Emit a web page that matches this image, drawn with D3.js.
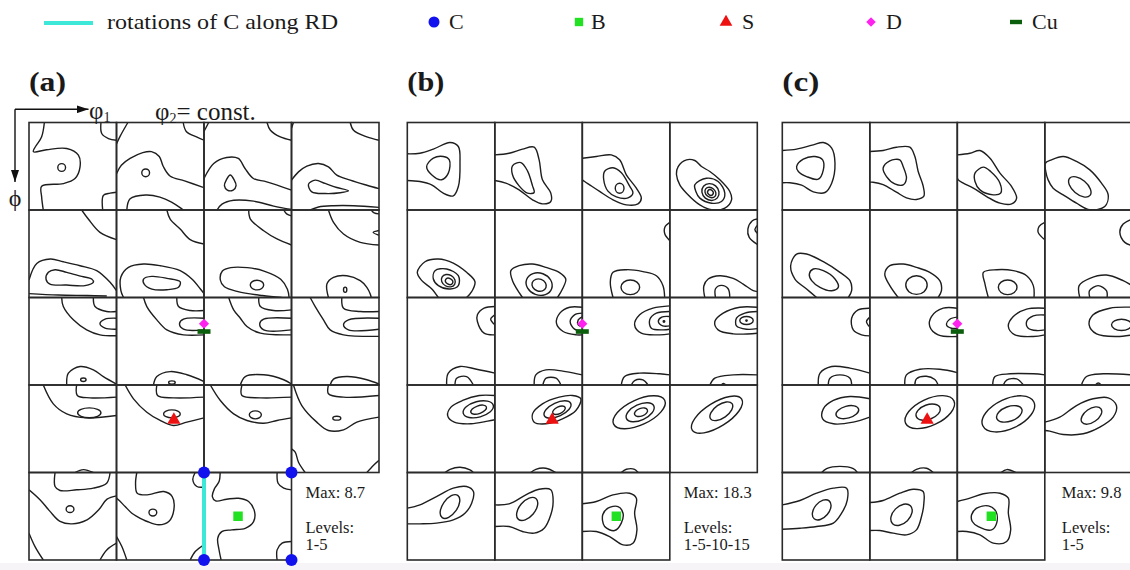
<!DOCTYPE html>
<html><head><meta charset="utf-8">
<script src="https://cdn.jsdelivr.net/npm/d3@7"></script>
<style>
body{margin:0;background:#fff}
svg{display:block}
text{font-family:"Liberation Serif","Times New Roman",serif;fill:#1a1a1a}
</style>
</head><body>
<svg id="chart" width="1130" height="570" font-family="Liberation Serif, serif"></svg>
<script>
// ---------------- DATA ----------------
const phi2Sections = [0,5,10,15,20,25,30,35,40,45,50,55,60,65,70,75,80,85,90];
const panelLabels = ["(a)","(b)","(c)"];
const maxValues = ["8.7","18.3","9.8"];
const levelLabels = ["1-5","1-5-10-15","1-5"];
const legendLabels = ["rotations of C along RD","C","B","S","D","Cu"];

// texture components as Euler angles [phi1, Phi, phi2]
const compC  = [[0,0,90],[90,0,90],[0,90,90],[90,90,90]];
const compB  = [[35,45,90]];
const compS  = [[59,37,63]];
const compD  = [[90,27,45]];
const compCu = [[90,35,45]];
const rdRotation = [[0,0,90],[0,90,90]];

// contours per phi2 section, in degrees (phi1, Phi)
// "o": open line, "c": closed line, "e": [cx, cy, rx, ry, tilt]
const contoursA = [
 [["o",15.8,0,13,14.7,4.5,30,18,28,38.8,26.8,50.8,33.6,52.5,45.6,47.3,57.6,35.3,62.8,13,65.5,13,76.5,14.7,90],
  ["e",33.6,46.3,4,4,0],["o",74,0,74.8,11.3,81.7,16.5,90,18.2],["o",75.8,90,76.5,75,83.4,72.7,90,71.7]],
 [["o",11.7,0,3.8,14,0,22],
  ["o",0,52.8,5,44,14,37,27,31,36,30,44,35,48,45,55,55,70,60,90,67],
  ["e",30,51.8,4,4,0],["o",10.6,90,14,78.5,30,74.6,44.6,76.7,56.6,81.8,66.9,88.6,68.6,90],
  ["o",68.6,0,72,9.6,82.3,14.8,90,18.2]],
 [["o",4.8,0,0,9.3],["o",0,57.6,10,42.2,23.3,36,35.3,37,42.2,47.3,50.8,57.6,64.5,61,90,69.6],
  ["c",27,54,31,59,33,65,30,69.5,24,69.5,21,65,23,59],
  ["o",13.4,90,18.5,84,30.5,80,51,80.9,71.7,86,90,89.5],["o",64.8,0,68.3,7.9,78.5,14.8,90,18.2]],
 [["o",2,0,0,6],["o",0,59.3,7.2,50.8,15.8,44.9,27.8,42.2,38,45.6,46.6,54.2,60.4,59.3,77.5,64.5,90,68],
  ["c",17.5,63.4,24.4,59.3,34.6,62.7,46.6,66.9,58.6,70.3,50.1,72.3,34.6,73.1,20.9,71.4],
  ["o",19.2,90,27.8,86.9,43.2,85.6,63.8,85.6,90,87.3],["o",60.4,0,63.8,7.9,77.5,14.8,90,18.2]],
 [["o",54.2,0,61,9.3,73,23,90,30.5],
  ["o",0,72,8,55,22,50.4,35.3,53.2,52.5,57.3,69.6,62.4,83.4,74.4,90,83],
  ["o",0,86,30,87.5,60,88,80,88.5],
  ["c",19.9,64.1,26.8,61.4,38.8,64.1,54.2,68.3,64.5,71,66.2,74.4,57.6,77.8,38.8,77.2,21.6,76.2,17.5,71]],
 [["o",51.8,0,55.2,9.3,65.5,19.6,75.8,30.5,90,35],
  ["o",7.2,90,4.5,83,4.5,69,12.3,59,27.8,55.6,44.9,57.3,65.5,62.4,77.5,71,86.1,81,90,86],
  ["c",27.8,71,36.4,68.3,51.8,70.3,65.5,73.8,63.8,79.5,51.8,82,36.4,81.3,28.5,76.2]],
 [["o",46,0,47.7,9.3,61.4,21.3,75.1,29.8,90,36],["o",82,0,85,4,90,6],
  ["o",87.5,90,85.8,81.6,78.9,71.3,61.7,62.8,44.6,59.3,27.5,59.3,18.9,62.8,16.8,72,21,79,35,84,60,88,80,90],
  ["e",54.5,77.2,6.9,5,0]],
 [["o",38,0,43.2,12.7,53.5,24.7,70.7,33.3,90,36],["o",82,0,85,3,90,4],["o",90,21,84,23,90,26],
  ["o",38,90,36.4,76.2,43.2,69.3,57,67.6,70.7,72.7,77.5,79.5,81,86.4,82,90],
  ["e",55.2,82,1.7,2.7,0]],
 [["o",33.6,0,35.3,9.3,45.6,23,59.3,33.3,73,38.4,90,39.4],["o",66.2,0,67.9,9.3,79.9,14.4,90,14.4],
  ["o",90,21.3,78.2,22.3,73,27,78.2,31.5,90,32.6],["o",38.8,90,40.5,77.8,52.5,71,66.2,74.4,76.5,81.3,90,89],
  ["e",55.9,84.6,2.8,1.8,0]],
 [["o",27.8,0,31.2,9.3,41.5,23,51.8,33.3,68.9,38.4,90,38.4],["o",62,0,63.8,9.3,75.8,13.4,90,13.4],
  ["o",90,21.3,68.9,22.3,64.8,27,68.9,32.6,90,33.3],["o",38,90,41.5,81.3,55.2,76.2,72.4,79.5,90,86.4],
  ["e",57,87.5,3.4,1.7,0]],
 [["o",25.4,0,30.5,12.7,37.4,21.3,44.2,29.8,58,36.7,90,38.4],["o",56.3,0,58,9.3,71.7,13.4,90,12.7],
  ["o",90,21.3,61.4,22.3,57.3,27,61.4,33.3,90,33.3],["o",37.4,90,42.5,81.3,61.4,79.5,82,84.6,90,89]],
 [["o",19.2,0,24.4,9.3,32.9,23,39.8,33.3,53.5,38.4,90,40],["o",51.8,0,53.5,11,70.7,14.4,90,14.4],
  ["o",90,21.3,58.6,23,53.5,28.1,58.6,33.3,90,32.6],["o",39.8,90,43.2,84,57,81.3,77.5,84.6,90,89]],
 [["o",14.7,0,25,19.4,38.8,29.7,59.3,33.8,90,31.4],["o",49,0,49.7,10.8,62.7,13.2,90,12.5],
  ["e",62,28.6,12,5.1,0],["o",47.3,90,56,87,66,90]],
 [["o",8.9,0,17.5,14.2,31.2,28,44.9,36.5,58.6,41.7,72.4,38.2,90,33.8],["o",41.5,0,42.2,10.8,58.6,13.2,90,12.5],
  ["e",57,29.7,8.6,4.1,0]],
 [["o",6.5,0,16.8,16,30.5,29.7,44.2,36.5,61.4,39.3,75.1,36.5,90,33.8],["o",39,0,39,10.8,58,13.2,90,12.5],
  ["e",52.8,30.7,6.2,4.1,0]],
 [["o",2,0,10.6,21.1,26,38.2,38,46.8,53.5,46.1,67.2,38.2,90,33],["o",38,0,38,9,53.5,12.5,90,10.8],
  ["e",46.6,34.1,4.1,2,0],["o",0,65.7,3.8,69,7.2,79.5,14,90],["o",77.5,90,84.4,82.5,90,77.4]],
 [["o",26.8,0,26.8,14.4,31.9,18.5,49,17.8,66.2,16.1,79.9,11,83.4,0],
  ["o",0,17.8,11.3,28,21.6,40,31.9,50.3,44.2,52.8,59.7,48.7,71.7,38.4,80.3,27.4,90,24],
  ["e",42.2,37.7,4,3.5,0],["o",0,62.4,6.2,76.2,14.7,90],["o",73,90,80,79.6,90,72.7]],
 [["o",20.9,0,19.6,11,21.3,21.3,31.6,23,48.7,19.6,57.3,24.7,59,38.4,53.8,50.4,43.5,53.8,31.6,50.4,21.3,45.3,15.8,41.9,8.9,35,2,28.1,0,26.4],
  ["e",37.4,41.2,4,3.5,0],["o",80.9,0,78.5,7.5,82.7,14.4,90,15],["o",0,65.9,5.5,76.2,10.6,90],
  ["o",75.8,90,81,81.3,90,74.4]],
 [["o",16.6,0,15.5,9.3,10.7,16.8,8.6,24.7,12,29.2,23.4,27.5,35.5,26.5,45.9,29.9,52,40.2,51,50.5,42.4,57.4,28.6,59,18.3,60.8,14.1,67.7,15.5,79.7,17.6,90],
  ["o",75.2,0,76.2,11,82,16.1,90,17.9],["o",90,71,80.3,72.7,75.2,79.6,75.2,90]]
];

const contoursB = [
 [["o",0,32.2,13,31.6,26.8,27.4,43.9,20.6,52.5,24.7,54.2,41.9,52.5,65.9,47.3,75.5,37,72.7,25,64.1,13,60.7,0,59.7],
  ["c",19.9,45.3,26.8,36.7,37,35,43.2,38.4,42.2,52.1,35.3,58.9,25,53.8]],
 [["o",0,33.3,14.7,31.6,28.5,27.4,40.5,25.4,45.6,38.4,49,59,57.6,72.7,57.6,81.3,49,83.7,38.8,79.5,25,69.3,11.3,62.4,0,59.7],
  ["c",18.2,44.6,26.8,41.2,33.6,49.7,38.8,65.2,40.5,72,33.6,72.7,25,65.2,18.2,53.8]],
 [["o",0,36.7,14.4,35,29.8,33.3,38.4,38.4,45.3,53.8,55.6,67.6,60.7,77.8,57.3,83.7,45.3,84.7,31.6,79.5,17.8,70.9,7.5,64.1,2.4,60.7,0,59],
  ["c",23,50.1,31.6,46.6,40.2,51.8,48.7,65.5,52.1,72.4,47,77.5,35,76.5,26.4,70.6,22,58.6],
  ["e",38.4,67.6,4.5,5.1,0]],
 [["c",8.6,45.3,17.2,38.4,25.7,39.1,32.6,45.3,41.2,50.4,51.5,59,61.7,71,63.5,79.5,56.6,88.1,42.9,89.8,30.9,84.7,17.2,72.7,10.3,64.1,6.9,53.8],
  ["c",25.7,64.1,37.7,57.3,49.7,60.7,56.6,72.7,53.2,81.3,42.9,83,30.9,77.8,26.8,70.9],
  ["e",41.8,71.5,9.3,8.2,40],["e",41.8,72,6.2,4.8,40],["e",41.8,72,3.1,2.6,40]],
 [["o",31.9,90,25,80.9,14.7,72.4,10.3,64.1,18.2,53.2,31.9,50.4,47.3,54.6,61,64.1,69.6,73.8,66.2,84,61,90],
  ["c",28.5,62.4,40.5,60.7,52.5,67.6,52.5,77.8,44,81.3,32,77.8,26.8,71],
  ["e",42.2,72.7,7.5,6,30],["e",43,73.4,4,3,30]],
 [["o",28.5,90,18.2,72.7,16.5,62.4,25,57.3,38.8,55.6,52.5,59,66.2,64.1,73,71,69.6,81.3,64.5,90],
  ["e",45.6,76.2,13.7,11.3,20],["e",45.6,77.2,7.5,6.2,20]],
 [["o",90,12.7,84.9,17.8,84.9,24.7,90,31.6],
  ["o",31.6,90,28.8,74.4,31.6,64.1,45.3,61.4,62.4,63.4,76.2,67.6,83,77.8,84.7,90],
  ["e",49.4,79.5,9.6,7.5,0]],
 [["o",90,9.3,84.9,11,80.3,19.6,81.7,28.1,90,35.3],["o",90,16,87.5,20,90,24],
  ["o",36,90,35,78.2,39.5,71,51.5,67.6,65.2,70.3,75.5,76.2,85.8,83,90,84],
  ["o",47,90,47,81,53,77.5,60,81,61.7,90]],
 [["o",90,9.3,79,11,72.1,17.8,72.1,24.7,79,36.7,90,38.4],["o",90,17.8,85.8,22.3,90,28.1],
  ["o",40.5,90,42.2,77.8,54.2,71,71.3,73.8,90,77.8],["o",49,90,50.8,83,61,81.3,68,90]],
 [["o",90,10,77,10,66.9,16.1,63.4,26.4,70.3,35,84,38.4,90,38.4],["o",90,16.1,82,17.8,77.5,24.7,82,32.6,90,34],
  ["o",90,19.6,85.8,23,85.8,28.1,90,29.8],["o",40.5,90,42.2,79.6,52.5,74.4,73,76.2,90,79.6],
  ["o",49.4,90,52.8,83,63,83,68,90]],
 [["o",90,8.6,72.7,11,59,17.8,53.8,28.1,60.7,36.7,79.6,38.4,90,37.4],
  ["o",90,14.4,76.2,16.1,69.3,23,71,31.6,83,33.3,90,32.6],["o",90,19.6,81.7,20.2,78.2,24.7,82.7,29.2,90,29.2],
  ["e",84,24.7,0.8,0.8,0],["o",40.1,90,43.5,81.3,59,77.8,79.6,78.5,90,79.6],["o",50.4,90,53.8,85.4,62.4,84.7,67.6,90]],
 [["o",90,10,72,10,54.9,16.1,46.3,24.7,49.7,33.3,65.2,37.4,90,36.7],
  ["o",90,14.4,77.2,16.1,68.6,21.3,68.6,29.2,78.9,32.6,90,32],["e",78.9,23.7,6.9,4.1,0],["e",78.9,23.7,0.7,0.7,0],
  ["o",41.2,90,46.3,83,65.2,79.6,90,79.6],["o",53,90,55,88.5,58,90]],
 [["o",90,10.8,74,10.8,56.9,15.9,44.9,22.8,41.5,31.4,48.3,38.2,65.5,39.9,82.7,37.2,90,35.8],
  ["e",73,25,16,8,-15],["e",73.4,25.4,8.5,4,-20],["o",38.8,90,44,86.7,54.2,84.6,64.5,87.3,67.9,90]],
 [["c",88.5,14.2,79.9,10.8,66.2,12.5,49,19.4,38.8,29.7,40.5,38.2,52.5,39.9,69.6,34.8,83.4,26.2],
  ["e",64.5,25.2,15,7,-25],["e",66,26,7,3.5,-25],["o",37,90,42.2,86.7,52.5,85.6,62.7,90]],
 [["e",58.5,28,29,13,-25],["e",59.5,28,15.5,8,-25],["e",60.4,28,7,4,-20],["o",40.1,90,45.3,86.7,53.8,86.7,57.3,90]],
 [["e",48.5,30.5,30,12.5,-32],["e",53,27,13.5,7,-35]],
 [["o",0,36.7,13,33.3,30,24.7,47.3,16.1,61,14.4,68,19.6,66.2,31.6,59.3,41.9,47.3,48.7,30,52.1,13,52.8,0,52.8],
  ["e",43.9,35,14,7.5,-55]],
 [["o",0,33.3,14.7,32.2,31.9,23,45.6,17.2,57.6,17.8,60,29.8,57.6,43.5,50.8,57.3,40.5,62.4,28.5,60.7,14.7,55.6,0,55.6],
  ["e",33.3,37.5,14,8,-50]],
 [["o",0,32.2,14.4,29.8,31.6,23,48.7,21.3,55.6,26.4,53.8,41.9,56.2,59,52.1,72.7,41.9,74.4,28.1,65.9,14.4,60.7,0,60.7],
  ["c",21,43.5,26.4,36.7,36.7,35,41.9,41.9,40.1,52.1,33.3,59.7,23,55.6]]
];

const contoursC = [
 [["o",0,28.8,14.7,27.4,31.9,23,42.2,20.6,50.8,26.4,54.2,41.9,50.8,62.4,43.9,72,31.9,71.3,19.9,64.5,7.9,62,0,62],
  ["c",14.7,45.3,21.6,37.7,33.6,35,41.5,38.4,42.2,48.7,37,58.3,25,55.6,16.5,50.4]],
 [["o",0,29.8,13.7,28.8,27.4,25.4,41.2,25.4,46.3,34.8,49.7,50.1,54.9,65.5,55.6,75.8,48,79.2,37.7,77.5,27.4,71.7,13.7,63.8,3.4,61.4,0,61.4],
  ["c",13.7,47,20.6,39.5,30.9,38.4,34.3,45.3,37.7,57.3,34.3,64.1,25.7,63.1,17.2,55.6]],
 [["o",0,33.3,13,31.6,23.3,28.8,33.6,36.7,43.9,52.1,55.9,65.9,61,77.8,55.9,83.7,43.9,83,30.2,76.2,16.5,67.6,6.2,62.4,1,59,0,57],
  ["c",18.2,52.1,26.8,45.9,34.3,50.4,43.9,62.4,44.6,72.7,37,74.4,23.3,69.3,18.2,60.7]],
 [["c",0.5,42,6.9,38.4,18.9,35,32.6,40.1,46.3,48.7,58.3,62.4,65.2,74.4,61.7,86.4,46.3,89.8,32.6,83,18.9,74.4,8.6,67.6,3.4,59,1,50.4],
  ["e",36,66.2,13.7,7.5,40]],
 [["o",35.3,90,25,81.3,13,71,8.6,57.3,14.7,45.3,25,45.3,42.2,53.2,59.3,64.1,69.6,72.7,71.3,83,67.9,90],
  ["c",27.8,65.9,31.9,60.7,42.2,62.4,54.2,71,57.6,79.5,50.8,83,38.8,79.5,30.2,72.7]],
 [["o",29.2,90,20.6,77.8,15.4,65.9,20.6,57.3,34.3,55.6,48,59,61.7,64.1,72,72.7,73.7,83,70.3,90],
  ["e",48,77.2,11,9.6,0]],
 [["o",90,12.7,84.2,16.8,83.2,23,90,30.5],
  ["o",31.9,90,28.5,76.2,26.8,64.1,40.5,61.4,57.6,62.4,71.3,67.6,78.2,77.8,78.9,90],
  ["e",51.8,79.5,9.6,7.5,0]],
 [["o",90,9.3,80.6,14.4,77.2,23,82.3,33.3,90,36.7],
  ["o",36,90,35.3,77.8,46.3,70.3,63.4,66.9,80.6,72.7,90,77.8],["o",46.3,90,46,83,54.9,77.8,63.4,83,64.1,90]],
 [["o",90,11,78,12.7,71.3,21.3,73,33.3,81.5,38.4,90,39.5],["o",90,20.2,86.6,24.7,90,30.5],
  ["o",37,90,38.8,77.8,50.8,71,69.6,72.7,90,77.8],["o",47.3,90,49,83,59.3,79.6,69.6,83,71.3,90]],
 [["o",90,11,75.5,11,63.4,19.6,61.7,29.8,70.3,38.4,90,40.1],["o",90,20.2,82.3,22.3,78.9,28.1,84,31.6,90,31.6],
  ["o",36,90,37.7,79.6,51.5,73.8,72,73.8,90,77.2],["o",46.3,90,48,83.7,58.3,81,66.9,84.4,70.3,90]],
 [["o",90,11,71.3,12,57.6,19.6,52.5,29.8,59.3,38.4,78.2,40.1,90,38.4],
  ["o",90,18,78.2,18.9,71.3,24.7,73,31.6,81.6,34,90,33.3],
  ["o",36.4,90,38.8,81.3,54.2,78.5,78.2,78.5,90,79.6],["o",47.3,90,50.8,85,61,83.7,68,90]],
 [["o",90,10,66.9,11,49.7,17.8,45.6,28.1,53.2,37.4,73.7,40.1,90,38.4],["e",78.9,28.1,10.3,5.8,0],
  ["o",37.7,90,42.9,81.3,60,78.5,90,79.6],["o",52,90,55,88,58,90]],
 [["o",90,14.2,69.6,11.8,52.5,15.9,42.2,24.5,41.5,34.8,52.5,39.9,73,38.2,90,33.1],
  ["e",66.9,27.9,12,6.2,-15],["o",40.5,90,45.6,86,59.3,83.7,73,86,77.2,90]],
 [["e",61.7,27.9,27.4,13.7,-25],["e",60,27.9,13,7.5,-20],["o",42.9,90,48,86.7,58.3,85.6,65.2,90]],
 [["e",52.5,29.7,29,15.4,-25],["e",53.5,29.7,13.7,7.5,-20],["o",45,90,51,87,60,90]],
 [["o",0,38.2,15.4,33.1,32.6,21.1,49.7,14.2,65.2,13.2,73.7,21.1,70.3,33.1,56.6,43.4,39.5,50.2,18.9,50.9,5.1,47.5,0,46.8],
  ["e",48,31.4,12,6.9,-35]],
 [["o",0,33.3,18.2,28.8,35.3,21.3,52.5,16.1,66.2,16.1,66.9,28.1,61,41.9,52.5,52.1,35.3,55.6,18.2,57.3,0,58.3],
  ["e",40.5,38.4,12,7.5,-50]],
 [["o",0,30.9,13.7,28.8,30.9,21.3,44.6,17.2,54.9,19.6,55.6,31.6,53.2,45.3,48,59,37.7,64.1,24,62.4,10.3,59.7,0,59.7],
  ["e",32.6,43.5,13,8.6,-45]],
 [["o",0,29.8,13,26.4,26.8,21.9,43.9,21.3,52.5,26.4,52.5,41.9,54.9,59,50.8,71,37,72.7,23.3,64.1,9.6,60.7,0,60.7],
  ["c",14.7,43.5,19.9,36.7,31.9,34.3,39.8,40.1,40.5,52.1,35.3,59,21.6,55.6,15.4,50.4]]
];

// ---------------- LAYOUT / STYLE ----------------
const L = {cell:87.5, top:122.5, panelX:[29,407.3,782.3], textDx:[14,14,17], labelY:91};
const COL = {blue:"#1212ee", green:"#22e022", red:"#ee1111", magenta:"#ff22ee", dark:"#0b5e0b", cyan:"#3de8d8",
             line:"#1e1e1e", grid:"#2a2a2a", text:"#151515"};

const svg = d3.select("#chart");
svg.append("rect").attr("width",1130).attr("height",570).attr("fill","#fff");
svg.append("rect").attr("x",0).attr("y",563).attr("width",1130).attr("height",7).attr("fill","#f6f4f6");

const defs = svg.append("defs");
defs.append("clipPath").attr("id","cellclip").append("rect")
  .attr("x",0).attr("y",0).attr("width",L.cell).attr("height",L.cell);
defs.append("marker").attr("id","arr").attr("viewBox","0 0 12 8").attr("refX",12).attr("refY",4)
  .attr("markerWidth",12).attr("markerHeight",8).attr("markerUnits","userSpaceOnUse").attr("orient","auto")
  .append("path").attr("d","M0,0L12,4L0,8Z").attr("fill","#111");

const deg = d3.scaleLinear().domain([0,90]).range([0,L.cell]);
const colScale = d3.scaleLinear().domain([0,1]).range([0,L.cell]);
const lineOpen = d3.line().x(d=>deg(d[0])).y(d=>deg(d[1])).curve(d3.curveCatmullRom.alpha(0.5));
const lineClosed = d3.line().x(d=>deg(d[0])).y(d=>deg(d[1])).curve(d3.curveCatmullRomClosed.alpha(0.5));

function pairs(a){const r=[];for(let i=1;i<a.length;i+=2)r.push([a[i],a[i+1]]);return r;}
function sectionIndex(phi2){
  let best=0;phi2Sections.forEach((s,i)=>{if(Math.abs(s-phi2)<Math.abs(phi2Sections[best]-phi2))best=i;});
  return best;
}
function pos(e){
  const i=sectionIndex(e[2]);
  return [colScale(i%4)+deg(e[0]), colScale(Math.floor(i/4))+deg(e[1])];
}

const allContours=[contoursA,contoursB,contoursC];

panelLabels.forEach((lab,pi)=>{
  const px=L.panelX[pi];
  svg.append("text").attr("x",px).attr("y",L.labelY).attr("font-size",27).attr("font-weight","bold")
    .attr("fill",COL.text).attr("textLength",37).attr("lengthAdjust","spacingAndGlyphs").text(lab);

  const g=svg.append("g").attr("transform",`translate(${px},${L.top})`);
  phi2Sections.forEach((s,i)=>{
    const cg=g.append("g").attr("transform",`translate(${colScale(i%4)},${colScale(Math.floor(i/4))})`);
    const inner=cg.append("g").attr("clip-path","url(#cellclip)");
    allContours[pi][i].forEach(c=>{
      if(c[0]==="e"){
        const cx=deg(c[1]),cy=deg(c[2]);
        inner.append("ellipse").attr("cx",cx).attr("cy",cy).attr("rx",deg(c[3])).attr("ry",deg(c[4]))
          .attr("transform",`rotate(${c[5]},${cx},${cy})`)
          .attr("fill","none").attr("stroke",COL.line).attr("stroke-width",1.4);
      } else {
        inner.append("path").attr("d",(c[0]==="c"?lineClosed:lineOpen)(pairs(c)))
          .attr("fill","none").attr("stroke",COL.line).attr("stroke-width",1.4).attr("stroke-linejoin","round");
      }
    });
    cg.append("rect").attr("width",L.cell).attr("height",L.cell)
      .attr("fill","none").attr("stroke",COL.grid).attr("stroke-width",1.6);
  });

  // annotation text
  const tx=colScale(3)+L.textDx[pi], ty=colScale(4);
  const t=g.append("g").attr("font-size",16.5).attr("fill",COL.text);
  t.append("text").attr("x",tx).attr("y",ty+25).text("Max: "+maxValues[pi]);
  t.append("text").attr("x",tx).attr("y",ty+60).text("Levels:");
  t.append("text").attr("x",tx).attr("y",ty+77.5).text(levelLabels[pi]);

  // texture components
  const m=g.append("g");
  if(pi===0){
    const a=pos(rdRotation[0]),b=pos(rdRotation[1]);
    m.append("line").attr("x1",a[0]).attr("y1",a[1]).attr("x2",b[0]).attr("y2",b[1])
      .attr("stroke",COL.cyan).attr("stroke-width",4);
    compC.forEach(e=>{const p=pos(e);m.append("circle").attr("cx",p[0]).attr("cy",p[1]).attr("r",6).attr("fill",COL.blue);});
  }
  compB.forEach(e=>{const p=pos(e);m.append("path").attr("d",d3.symbol(d3.symbolSquare,90)())
    .attr("transform",`translate(${p})`).attr("fill",COL.green);});
  compS.forEach(e=>{const p=pos(e);m.append("path").attr("d",d3.symbol(d3.symbolTriangle,75)())
    .attr("transform",`translate(${p[0]},${p[1]-1})`).attr("fill",COL.red);});
  compD.forEach(e=>{const p=pos(e);m.append("path").attr("d",d3.symbol(d3.symbolSquare,52)())
    .attr("transform",`translate(${p}) rotate(45)`).attr("fill",COL.magenta);});
  compCu.forEach(e=>{const p=pos(e);m.append("rect").attr("x",p[0]-6.5).attr("y",p[1]-2.3)
    .attr("width",13).attr("height",4.6).attr("fill",COL.dark);});
});

// axis annotation in (a)
const ax=svg.append("g").attr("fill",COL.text);
ax.append("line").attr("x1",15).attr("y1",109.3).attr("x2",88.5).attr("y2",109.3)
  .attr("stroke","#111").attr("stroke-width",1.4).attr("marker-end","url(#arr)");
ax.append("line").attr("x1",15).attr("y1",109.3).attr("x2",15).attr("y2",182)
  .attr("stroke","#111").attr("stroke-width",1.4).attr("marker-end","url(#arr)");
const p1=ax.append("text").attr("x",89).attr("y",119).attr("font-size",25).attr("fill",COL.text);
p1.append("tspan").text("φ");
p1.append("tspan").attr("font-size",14).attr("dy",3).text("1");
const p2=ax.append("text").attr("x",155).attr("y",120).attr("font-size",25).attr("fill",COL.text);
p2.append("tspan").text("φ");
p2.append("tspan").attr("font-size",14).attr("dy",3).text("2");
p2.append("tspan").attr("dy",-3).text("= const.");
ax.append("text").attr("x",15).attr("y",206).attr("font-size",24).attr("text-anchor","middle").attr("fill",COL.text).text("ϕ");

// legend
const lg=svg.append("g");
const legendX=[44,434,579,726,871,1016];
const legendTextX=[107,449,591,742,886,1032];
const ly=22;
lg.append("line").attr("x1",legendX[0]).attr("x2",legendX[0]+49).attr("y1",ly+1).attr("y2",ly+1)
  .attr("stroke",COL.cyan).attr("stroke-width",4);
lg.append("circle").attr("cx",legendX[1]).attr("cy",ly).attr("r",5.5).attr("fill",COL.blue);
lg.append("path").attr("d",d3.symbol(d3.symbolSquare,70)()).attr("transform",`translate(${legendX[2]},${ly})`).attr("fill",COL.green);
lg.append("path").attr("d",d3.symbol(d3.symbolTriangle,70)()).attr("transform",`translate(${legendX[3]},${ly})`).attr("fill",COL.red);
lg.append("path").attr("d",d3.symbol(d3.symbolSquare,45)()).attr("transform",`translate(${legendX[4]},${ly}) rotate(45)`).attr("fill",COL.magenta);
lg.append("rect").attr("x",legendX[5]-6).attr("y",ly-2.2).attr("width",12).attr("height",4.4).attr("fill",COL.dark);
legendLabels.forEach((s,i)=>{
  const t=lg.append("text").attr("x",legendTextX[i]).attr("y",28.5).attr("font-size",22).attr("fill",COL.text).text(s);
  if(i===0)t.attr("textLength",231).attr("lengthAdjust","spacingAndGlyphs");
});
</script>
</body></html>
